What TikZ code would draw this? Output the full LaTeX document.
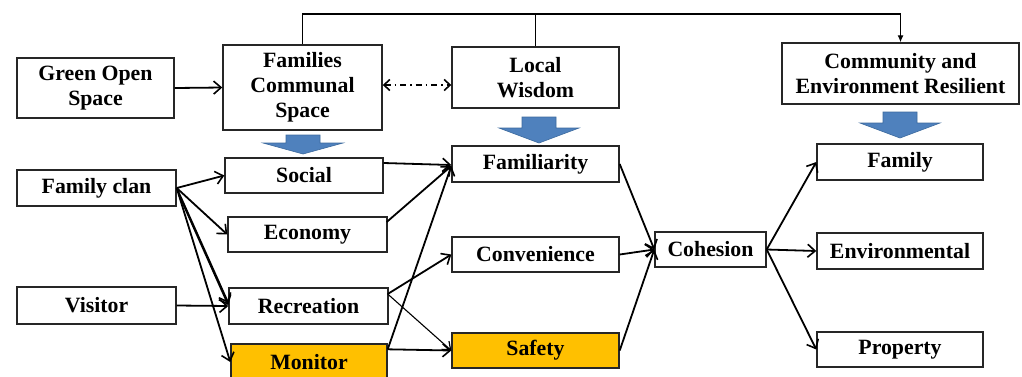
\documentclass[tikz,border=0pt]{standalone}
\usepackage{fontspec}
\setmainfont{Liberation Serif}
\usetikzlibrary{arrows.meta,calc}
\definecolor{orangefill}{HTML}{FFC000}
\definecolor{bluefill}{HTML}{4F81BD}
\definecolor{blueline}{HTML}{3C6A9E}
\tikzset{
  box/.style={draw=black!85, line width=1.4pt, fill=white, align=center, inner sep=0pt,
    font=\fontsize{21.8}{25}\selectfont\bfseries},
  hot/.style={box, fill=orangefill},
  conn/.style={line width=1.8pt, -{Straight Barb[length=7.5pt,width=13pt,line width=1.6pt]}},
  thinconn/.style={line width=1.1pt, -{Straight Barb[length=7pt,width=11pt,line width=1.2pt]}},
  bluearrow/.style={fill=bluefill, draw=blueline, line width=0.6pt, line join=miter}
}
\newcommand\bluedown[5]{% centre x, top y, head y, tip y, half shaft
  \path[bluearrow] (#1-#5,#2) -- (#1+#5,#2) -- (#1+#5,#3) -- (#1+40,#3) -- (#1,#4)
     -- (#1-40,#3) -- (#1-#5,#3) -- cycle;}
\begin{document}
\begin{tikzpicture}[x=1pt,y=-1pt]
\useasboundingbox (0,0) rectangle (1022,376);
\fill[white] (0,0) rectangle (1022,376);
% nodes
\node[box, minimum width=157pt, minimum height=60pt] (gos) at (95.5,88) {Green Open\\Space};
\node[box, minimum width=159pt, minimum height=85pt] (fcs) at (302.5,87.5) {Families\\Communal\\Space};
\node[box, minimum width=167pt, minimum height=61pt] (lw) at (535.5,77.5) {Local\\Wisdom};
\node[box, minimum width=237pt, minimum height=61pt] (cer) at (900.5,73.5) {Community and\\Environment Resilient};
\node[box, minimum width=158pt, minimum height=35pt] (soc) at (304,175.5) {Social};
\node[box, minimum width=167pt, minimum height=36pt] (fam) at (535.5,164) {Familiarity};
\node[box, minimum width=159pt, minimum height=36pt] (clan) at (96.5,188) {Family clan};
\node[box, minimum width=159pt, minimum height=35pt] (eco) at (307.5,234.5) {Economy};
\node[box, minimum width=167pt, minimum height=35pt] (conv) at (535.5,254.5) {Convenience};
\node[box, minimum width=111pt, minimum height=35pt] (coh) at (710.5,249.5) {Cohesion};
\node[box, minimum width=159pt, minimum height=37pt] (vis) at (96.5,305.5) {Visitor};
\node[box, minimum width=159pt, minimum height=36pt] (rec) at (308.5,306) {Recreation};
\node[hot, minimum width=156pt, minimum height=36pt] (mon) at (309,362) {Monitor};
\node[hot, minimum width=167pt, minimum height=35pt] (saf) at (535.5,350.5) {Safety};
\node[box, minimum width=166pt, minimum height=36pt] (fy) at (900,162) {Family};
\node[box, minimum width=166pt, minimum height=36pt] (env) at (900,251) {Environmental};
\node[box, minimum width=166pt, minimum height=35pt] (prop) at (900,349.5) {Property};
% blue arrows
\bluedown{303}{135}{143}{154}{17}
\bluedown{539}{117}{128}{143}{17}
\bluedown{900}{112}{123}{138}{17}
% top connector
\coordinate (top) at (0,14);
\draw[line width=1.2pt, -{Latex[length=7pt,width=6pt]}] (fcs.north) -- (fcs.north |- top) -| (cer.north);
\draw[line width=1.2pt] (lw.north) -- (lw.north |- top);
% dash-dot double arrow
\draw[line width=1.6pt, dash pattern=on 6pt off 4pt on 1.5pt off 4pt,
  {Straight Barb[length=6pt,width=11pt,line width=1.6pt]}-{Straight Barb[length=6pt,width=11pt,line width=1.6pt]}]
  ($(fcs.east)+(0,-2.5)$) -- ($(lw.west)+(0,7.5)$);
% connectors
\draw[conn] (gos.east) -- (fcs.west);
\draw[conn] (clan.east) -- (soc.west);
\draw[conn] (clan.east) -- (eco.west);
\draw[conn] (clan.east) -- ($(rec.west)+(0,-3)$);
\draw[conn] ($(clan.east)+(2,6)$) -- ($(rec.west)+(0,-1)$);
\draw[conn] (clan.east) -- (mon.west);
\draw[conn] (vis.east) -- (rec.west);
\draw[conn] ($(soc.east)+(0,-12.5)$) -- ($(fam.west)+(0,1)$);
\draw[conn] ($(eco.east)+(-1,-12.5)$) -- ($(fam.west)+(0,2)$);
\draw[conn] ($(rec.east)+(-1,-12)$) -- (conv.west);
\draw[thinconn] ($(rec.east)+(-1,-12)$) -- (saf.west);
\draw[conn] ($(mon.north east)+(0,6)$) -- ($(fam.west)+(0,2)$);
\draw[conn] ($(mon.north east)+(0,6)$) -- (saf.west);
\draw[conn] (fam.east) -- (coh.west);
\draw[conn] (conv.east) -- (coh.west);
\draw[conn] (saf.east) -- (coh.west);
\draw[conn] (coh.east) -- (fy.west);
\draw[conn] (coh.east) -- (env.west);
\draw[conn] (coh.east) -- (prop.west);
\end{tikzpicture}
\end{document}
